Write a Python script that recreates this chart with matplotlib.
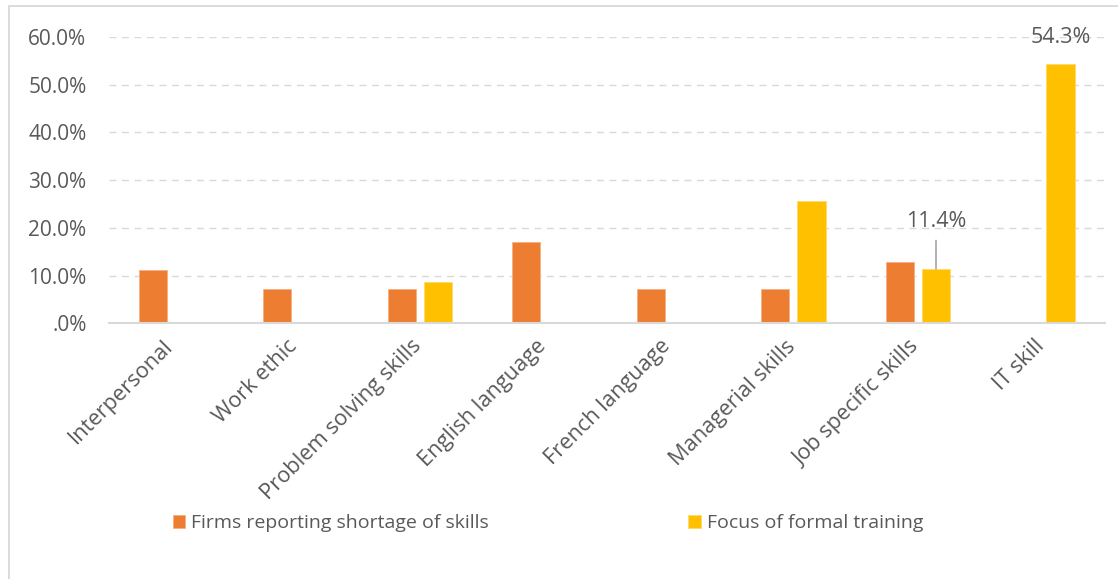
import matplotlib
matplotlib.use("Agg")
import matplotlib.pyplot as plt
from matplotlib.patches import Rectangle
import numpy as np

categories = ["Interpersonal", "Work ethic", "Problem solving skills", "English language",
              "French language", "Managerial skills", "Job specific skills", "IT skill"]
shortage = [11.1, 7.1, 7.1, 17.1, 7.1, 7.1, 12.9, 0.0]
training = [0.0, 0.0, 8.6, 0.0, 0.0, 25.7, 11.4, 54.3]
series_names = ["Firms reporting shortage of skills", "Focus of formal training"]
yticks = [0, 10, 20, 30, 40, 50, 60]
ytick_labels = [".0%", "10.0%", "20.0%", "30.0%", "40.0%", "50.0%", "60.0%"]

ORANGE = "#ED7D31"
YELLOW = "#FFC000"
GRID = "#D9D9D9"
TEXT = "#595959"

plt.rcParams["font.family"] = ["Open Sans", "DejaVu Sans"]

W, H = 1118, 579
fig = plt.figure(figsize=(W / 100, H / 100), dpi=100)

# outer chart frame (left and top edges visible)
fig.add_artist(Rectangle((8.5 / W, -0.1), 1.2, (579 - 6.5) / H + 0.1,
                         transform=fig.transFigure, fill=False,
                         edgecolor=GRID, linewidth=1.3))

ax = fig.add_axes([108.7 / W, (579 - 323.3) / H, 996 / W, (323.3 - 37) / H])

x = np.arange(len(categories))
bw = 0.225
off = 0.145
ax.bar(x - off, shortage, width=bw, color=ORANGE, edgecolor="#F4B183",
       linewidth=0.6, label=series_names[0], zorder=3)
bars_t = ax.bar(x + off, training, width=bw, color=YELLOW, edgecolor="#FFD966",
                linewidth=0.6, label=series_names[1], zorder=3)

ax.set_xlim(-0.5, len(categories) - 0.5)
ax.set_ylim(0, 60)
ax.set_yticks(yticks)
ax.set_yticklabels(ytick_labels, fontsize=15, color=TEXT)
ax.yaxis.grid(True, linestyle=(0, (5, 4)), color=GRID, linewidth=1.0, zorder=0)
ax.set_axisbelow(True)
ax.tick_params(axis="y", length=0, pad=16)
ax.tick_params(axis="x", length=0, pad=9)
for s in ["top", "right", "left"]:
    ax.spines[s].set_visible(False)
ax.spines["bottom"].set_color(GRID)
ax.spines["bottom"].set_linewidth(1.5)
ax.spines["bottom"].set_zorder(4)

# category labels: rotated, ending just below each group
label_dx = -0.07
ax.set_xticks(x + label_dx)
ax.set_xticklabels(categories, rotation=45, ha="right", va="top",
                   rotation_mode="anchor", fontsize=15.7, color=TEXT)

# data labels
it = len(categories) - 1
ax.annotate(f"{training[it]:.1f}%", (x[it] + off, training[it]), xytext=(0, 19.5),
            textcoords="offset points", ha="center", va="center",
            fontsize=15.5, color=TEXT)
js = 6
ax.annotate(f"{training[js]:.1f}%", (x[js] + off, training[js]),
            xytext=(x[js] + off, 21.3), textcoords="data",
            ha="center", va="center", fontsize=15.5, color=TEXT,
            arrowprops=dict(arrowstyle="-", color="#A6A6A6", lw=1.2,
                            shrinkA=4, shrinkB=0))

leg = fig.legend(handles=ax.patches[:1] + [bars_t[0]], labels=series_names,
                 loc="center", bbox_to_anchor=(548 / W, 1 - 523 / H), ncol=2,
                 frameon=False, fontsize=14, handlelength=0.65, handleheight=0.65,
                 handletextpad=0.3, columnspacing=10.25, labelcolor=TEXT)

fig.savefig("out.png", dpi=100)
